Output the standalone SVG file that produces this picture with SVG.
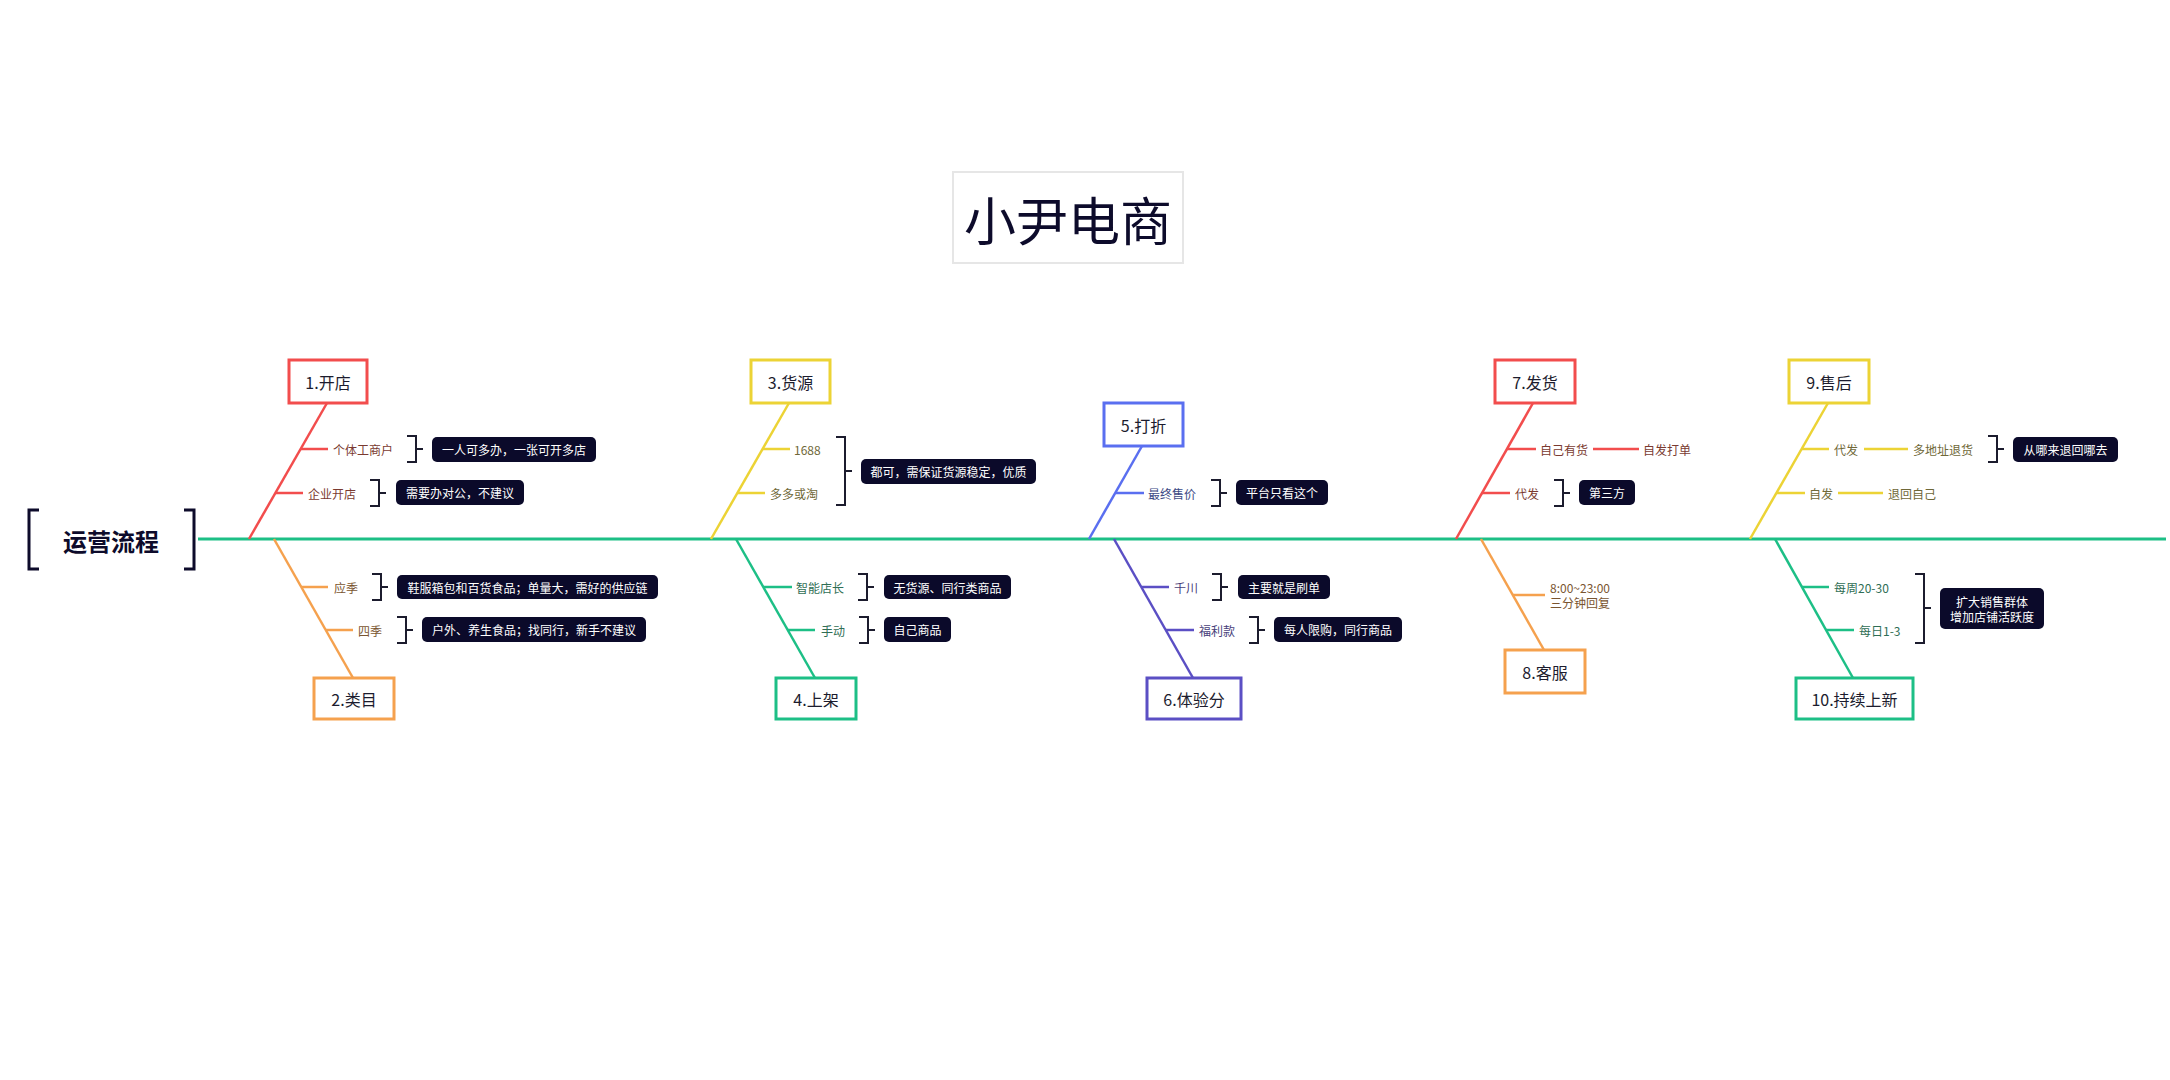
<svg xmlns="http://www.w3.org/2000/svg" width="2170" height="1080" viewBox="0 0 2170 1080">
<style>
text{font-family:"Noto Sans CJK SC","Noto Sans",sans-serif;dominant-baseline:central}
.box{fill:#fff;stroke-width:3}
.bt{font-size:16px;fill:#1c1c2e;text-anchor:middle}
.lb{font-size:12px}
.note{fill:#0b0a2a}
.nt{font-size:12px;fill:#fff;text-anchor:middle}
.br{fill:none;stroke:#1c1c2e;stroke-width:2}
.ln{fill:none;stroke-width:2.5}
.red{stroke:#f24d4d}.org{stroke:#f5a14e}.yel{stroke:#ecd335}.grn{stroke:#1dbf86}.blu{stroke:#5a6ff0}.pur{stroke:#5b4fc4}
.tred{fill:#7a3a30}.torg{fill:#7a5530}.tyel{fill:#6f6838}.tgrn{fill:#2f6e55}.tblu{fill:#3d4a85}.tpur{fill:#47407a}
</style>
<rect width="2170" height="1080" fill="#fff"/>
<g id="title">
<rect x="953" y="172" width="230" height="91" fill="#fff" stroke="#e6e6e6" stroke-width="2"/>
<text x="1068" y="218" font-size="52" fill="#0d0b2b" text-anchor="middle">小尹电商</text>
</g>
<g id="connectors">
<line x1="198" y1="539" x2="2166" y2="539" stroke="#1dbf86" stroke-width="3"/>
<line class="ln red" x1="249" y1="539" x2="327" y2="403"/>
<line class="ln red" x1="301" y1="449" x2="328" y2="449"/>
<line class="ln red" x1="276" y1="493" x2="303" y2="493"/>
<line class="ln org" x1="274" y1="539" x2="353" y2="678"/>
<line class="ln org" x1="301" y1="587" x2="328" y2="587"/>
<line class="ln org" x1="325.5" y1="630" x2="353" y2="630"/>
<line class="ln yel" x1="711" y1="539" x2="789" y2="403"/>
<line class="ln yel" x1="763" y1="449" x2="790" y2="449"/>
<line class="ln yel" x1="738" y1="493" x2="765" y2="493"/>
<line class="ln grn" x1="736" y1="539" x2="815" y2="678"/>
<line class="ln grn" x1="763" y1="587" x2="792" y2="587"/>
<line class="ln grn" x1="787.5" y1="630" x2="815" y2="630"/>
<line class="ln blu" x1="1089" y1="539" x2="1142" y2="446"/>
<line class="ln blu" x1="1115.5" y1="493" x2="1144" y2="493"/>
<line class="ln pur" x1="1114" y1="539" x2="1193" y2="678"/>
<line class="ln pur" x1="1141.5" y1="587" x2="1169" y2="587"/>
<line class="ln pur" x1="1165.5" y1="630" x2="1194" y2="630"/>
<line class="ln red" x1="1456" y1="539" x2="1533" y2="403"/>
<line class="ln red" x1="1507" y1="449" x2="1536" y2="449"/>
<line class="ln red" x1="1593" y1="449" x2="1639" y2="449"/>
<line class="ln red" x1="1482" y1="493" x2="1510" y2="493"/>
<line class="ln org" x1="1481" y1="539" x2="1544" y2="650"/>
<line class="ln org" x1="1513" y1="595" x2="1545" y2="595"/>
<line class="ln yel" x1="1750" y1="539" x2="1828" y2="403"/>
<line class="ln yel" x1="1802" y1="449" x2="1829" y2="449"/>
<line class="ln yel" x1="1864" y1="449" x2="1908" y2="449"/>
<line class="ln yel" x1="1777" y1="493" x2="1805" y2="493"/>
<line class="ln yel" x1="1838" y1="493" x2="1883" y2="493"/>
<line class="ln grn" x1="1775" y1="539" x2="1853" y2="678"/>
<line class="ln grn" x1="1802" y1="587" x2="1829" y2="587"/>
<line class="ln grn" x1="1826" y1="630" x2="1854" y2="630"/>
</g>
<g id="root">
<path class="br" style="stroke-width:3;stroke:#0d0b2b" d="M39 510H29V569H39M184 510H194V569H184"/>
<text x="111" y="540" font-size="24" font-weight="bold" fill="#0d0b2b" text-anchor="middle">运营流程</text>
</g>
<g id="n1">
<rect class="box red" x="289" y="360" width="78" height="43"/>
<text class="bt" x="328" y="381.5">1.开店</text>
<text class="lb tred" x="333" y="449">个体工商户</text>
<path class="br" d="M407 436H416V462H407M416 449H423"/>
<rect class="note" x="432" y="437" width="164" height="25" rx="5"/>
<text class="nt" x="514" y="449.5">一人可多办，一张可开多店</text>
<text class="lb tred" x="308" y="493">企业开店</text>
<path class="br" d="M370 480H379V506H370M379 493H386"/>
<rect class="note" x="396" y="480" width="128" height="25" rx="5"/>
<text class="nt" x="460" y="492.5">需要办对公，不建议</text>
</g>
<g id="n2">
<rect class="box org" x="314" y="678" width="80" height="41"/>
<text class="bt" x="354" y="698.5">2.类目</text>
<text class="lb torg" x="334" y="587">应季</text>
<path class="br" d="M372 574H381V600H372M381 587H388"/>
<rect class="note" x="397" y="575" width="261" height="24" rx="5"/>
<text class="nt" x="527.5" y="587">鞋服箱包和百货食品；单量大，需好的供应链</text>
<text class="lb torg" x="358" y="630">四季</text>
<path class="br" d="M397 617H406V643H397M406 630H413"/>
<rect class="note" x="422" y="617" width="224" height="25" rx="5"/>
<text class="nt" x="534" y="629.5">户外、养生食品；找同行，新手不建议</text>
</g>
<g id="n3">
<rect class="box yel" x="751" y="360" width="79" height="43"/>
<text class="bt" x="790.5" y="381.5">3.货源</text>
<text class="lb tyel" x="794" y="449">1688</text>
<text class="lb tyel" x="770" y="493">多多或淘</text>
<path class="br" d="M836 437H845V505H836M845 471H852"/>
<rect class="note" x="861" y="459" width="175" height="25" rx="5"/>
<text class="nt" x="948.5" y="471">都可，需保证货源稳定，优质</text>
</g>
<g id="n4">
<rect class="box grn" x="776" y="678" width="80" height="41"/>
<text class="bt" x="816" y="698.5">4.上架</text>
<text class="lb tgrn" x="796" y="587">智能店长</text>
<path class="br" d="M858 574H867V600H858M867 587H874"/>
<rect class="note" x="884" y="575" width="127" height="24" rx="5"/>
<text class="nt" x="947.5" y="587">无货源、同行类商品</text>
<text class="lb tgrn" x="821" y="630">手动</text>
<path class="br" d="M859 617H868V643H859M868 630H875"/>
<rect class="note" x="884" y="617" width="67" height="25" rx="5"/>
<text class="nt" x="917.5" y="629.5">自己商品</text>
</g>
<g id="n5">
<rect class="box blu" x="1104" y="403" width="79" height="43"/>
<text class="bt" x="1143.5" y="424.5">5.打折</text>
<text class="lb tblu" x="1148" y="493">最终售价</text>
<path class="br" d="M1211 480H1220V506H1211M1220 493H1227"/>
<rect class="note" x="1236" y="480" width="92" height="25" rx="5"/>
<text class="nt" x="1282" y="492.5">平台只看这个</text>
</g>
<g id="n6">
<rect class="box pur" x="1147" y="678" width="94" height="41"/>
<text class="bt" x="1194" y="698.5">6.体验分</text>
<text class="lb tpur" x="1174" y="587">千川</text>
<path class="br" d="M1212 574H1221V600H1212M1221 587H1228"/>
<rect class="note" x="1238" y="575" width="92" height="24" rx="5"/>
<text class="nt" x="1284" y="587">主要就是刷单</text>
<text class="lb tpur" x="1199" y="630">福利款</text>
<path class="br" d="M1249 617H1258V643H1249M1258 630H1265"/>
<rect class="note" x="1274" y="617" width="128" height="25" rx="5"/>
<text class="nt" x="1338" y="629.5">每人限购，同行商品</text>
</g>
<g id="n7">
<rect class="box red" x="1495" y="360" width="80" height="43"/>
<text class="bt" x="1535" y="381.5">7.发货</text>
<text class="lb tred" x="1540" y="449">自己有货</text>
<text class="lb tred" x="1643" y="449">自发打单</text>
<text class="lb tred" x="1515" y="493">代发</text>
<path class="br" d="M1554 480H1563V506H1554M1563 493H1570"/>
<rect class="note" x="1579" y="480" width="56" height="25" rx="5"/>
<text class="nt" x="1607" y="492.5">第三方</text>
</g>
<g id="n8">
<rect class="box org" x="1505" y="650" width="80" height="43"/>
<text class="bt" x="1545" y="671.5">8.客服</text>
<text class="lb torg" x="1550" y="587">8:00~23:00</text>
<text class="lb torg" x="1550" y="602.5">三分钟回复</text>
</g>
<g id="n9">
<rect class="box yel" x="1789" y="360" width="80" height="43"/>
<text class="bt" x="1829" y="381.5">9.售后</text>
<text class="lb tyel" x="1834" y="449">代发</text>
<text class="lb tyel" x="1913" y="449">多地址退货</text>
<path class="br" d="M1988 436H1997V462H1988M1997 449H2004"/>
<rect class="note" x="2013" y="437" width="105" height="25" rx="5"/>
<text class="nt" x="2065.5" y="449.5">从哪来退回哪去</text>
<text class="lb tyel" x="1809" y="493">自发</text>
<text class="lb tyel" x="1888" y="493">退回自己</text>
</g>
<g id="n10">
<rect class="box grn" x="1796" y="678" width="117" height="41"/>
<text class="bt" x="1854.5" y="698.5">10.持续上新</text>
<text class="lb tgrn" x="1834" y="587">每周20-30</text>
<text class="lb tgrn" x="1859" y="630">每日1-3</text>
<path class="br" d="M1915 574H1924V643H1915M1924 608H1931"/>
<rect class="note" x="1940" y="588" width="104" height="41" rx="5"/>
<text class="nt" x="1992" y="601">扩大销售群体</text>
<text class="nt" x="1992" y="616">增加店铺活跃度</text>
</g>
</svg>
